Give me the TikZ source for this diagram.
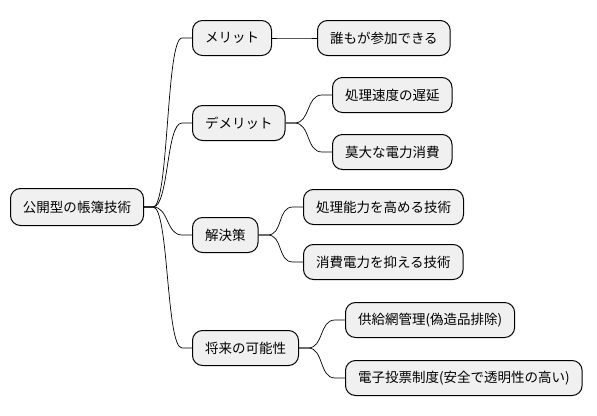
\documentclass[tikz,border=0pt]{standalone}
\usepackage{fontspec}
\usepackage{tikz}
\usetikzlibrary{calc}
\newfontfamily\jpfont{Noto Sans CJK JP}

\tikzset{
  topic/.style={draw=black,line width=1pt,fill=gray!12,rounded corners=10pt,
    anchor=west,inner xsep=12.5pt,minimum height=35pt,
    font=\jpfont\fontsize{13.5}{16}\selectfont},
  branch/.style={line width=0.7pt,
    to path={-- ++(9,0) .. controls +(16,0) and +(-16,0) .. ($(\tikztotarget)+(-10,0)$) -- (\tikztotarget)}}
}

\begin{document}
\begin{tikzpicture}[x=1pt,y=-1pt]
  \useasboundingbox (0,0) rectangle (597,415);
  % ====== Root ======
  \node[topic,minimum height=37pt] (root) at (10,207) {公開型の帳簿技術};

  % ====== First level ======
  \node[topic] (merit)  at (192,38)  {メリット};
  \node[topic] (demer)  at (192,123) {デメリット};
  \node[topic] (solve)  at (192,235) {解決策};
  \node[topic] (future) at (192,348) {将来の可能性};

  % ====== Second level ======
  \node[topic] (meritA)  at (317,38)  {誰もが参加できる};
  \node[topic] (demerA)  at (332,95)  {処理速度の遅延};
  \node[topic] (demerB)  at (332,152) {莫大な電力消費};
  \node[topic] (solveA)  at (303,207) {処理能力を高める技術};
  \node[topic] (solveB)  at (303,262) {消費電力を抑える技術};
  \node[topic] (futureA) at (345,320) {供給網管理(偽造品排除)};
  \node[topic] (futureB) at (345,378) {電子投票制度(安全で透明性の高い)};

  % ====== Branches ======
  \foreach \c in {merit,demer,solve,future}
    \draw[branch] (root.east) to (\c.west);
  \draw[branch] (merit.east) to (meritA.west);
  \foreach \c in {demerA,demerB}
    \draw[branch] (demer.east) to (\c.west);
  \foreach \c in {solveA,solveB}
    \draw[branch] (solve.east) to (\c.west);
  \foreach \c in {futureA,futureB}
    \draw[branch] (future.east) to (\c.west);
\end{tikzpicture}
\end{document}
